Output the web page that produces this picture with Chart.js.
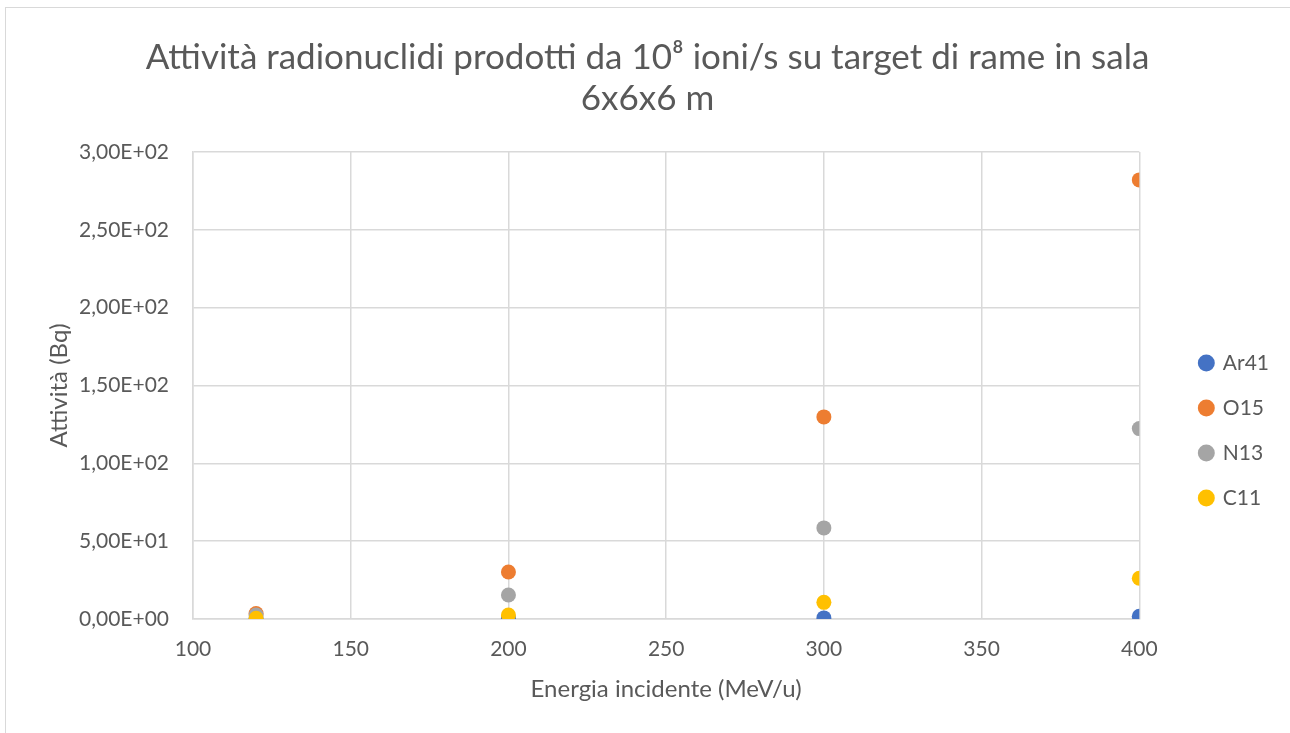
<!DOCTYPE html>
<html>
<head>
<meta charset="utf-8">
<script src="https://cdn.jsdelivr.net/npm/chart.js@4"></script>
<style>
  html, body { margin: 0; padding: 0; background: #fff; }
  #wrap { position: relative; width: 1290px; height: 733px; overflow: hidden; }
  #frame { position: absolute; left: 5px; top: 7px; width: 1300px; height: 740px; border: 1.5px solid #d9d9d9; box-sizing: border-box; }
  #c { position: absolute; left: 0; top: 0; }
</style>
</head>
<body>
<div id="wrap">
  <div id="frame"></div>
  <canvas id="c" width="1290" height="733"></canvas>
</div>
<script>
// energie (MeV/u)
const energies = [120, 200, 300, 400];

// attività (Bq) per radionuclide
const ar41 = [0.1, 0.3, 0.7, 1.8];
const o15 = [3.5, 30.2, 129.8, 282];
const n13 = [2.5, 15.4, 58.5, 122.3];
const c11 = [0.5, 2.6, 10.7, 26.2];

const seriesNames = ['Ar41', 'O15', 'N13', 'C11'];
const seriesColors = ['#4472C4', '#ED7D31', '#A5A5A5', '#FFC000'];

const yTickLabels = ['0,00E+00', '5,00E+01', '1,00E+02', '1,50E+02', '2,00E+02', '2,50E+02', '3,00E+02'];
const xTickLabels = ['100', '150', '200', '250', '300', '350', '400'];

const titleLines = ['Attività radionuclidi prodotti da 10⁸ ioni/s su target di rame in sala', '6x6x6 m'];

const FONT = 'Lato';
const TXT = '#595959';
const GRID = '#d9d9d9';

function toPoints(ys) {
    return energies.map((x, i) => ({ x: x, y: ys[i] }));
}

const allSeries = [ar41, o15, n13, c11];

const datasets = allSeries.map((ys, i) => ({
    label: seriesNames[i],
    data: toPoints(ys),
    backgroundColor: seriesColors[i],
    borderColor: seriesColors[i],
    pointRadius: 7.5,
    pointHoverRadius: 7.5,
    borderWidth: 0,
    order: allSeries.length - i
}));

new Chart(document.getElementById('c'), {
    type: 'scatter',
    data: { datasets: datasets },
    options: {
        responsive: false,
        animation: false,
        layout: { padding: { left: 16, right: 11, top: 0, bottom: 14 } },
        scales: {
            x: {
                type: 'linear',
                min: 100,
                max: 400,
                afterFit: function(s) { s.height = 100; },
                ticks: {
                    stepSize: 50,
                    color: TXT,
                    padding: 18,
                    font: { family: FONT, size: 21 },
                    callback: function(v, i) { return xTickLabels[i]; }
                },
                grid: { color: GRID, lineWidth: 1.5, drawTicks: false },
                border: { color: GRID, width: 1.5 },
                title: {
                    display: true,
                    text: 'Energia incidente (MeV/u)',
                    color: TXT,
                    font: { family: FONT, size: 24 },
                    padding: { top: 15, bottom: 15 }
                }
            },
            y: {
                min: 0,
                max: 300,
                afterFit: function(s) { s.width = 177; },
                ticks: {
                    stepSize: 50,
                    color: TXT,
                    padding: 24,
                    font: { family: FONT, size: 21 },
                    callback: function(v, i) { return yTickLabels[i]; }
                },
                grid: { color: GRID, lineWidth: 1.5, drawTicks: false },
                border: { color: GRID, width: 1.5 },
                title: {
                    display: true,
                    text: 'Attività (Bq)',
                    color: TXT,
                    font: { family: FONT, size: 24 },
                    padding: { top: 29, bottom: 0 }
                }
            },
            // spazio vuoto tra area del grafico e legenda
            gap: {
                type: 'linear',
                position: 'right',
                display: true,
                afterFit: function(s) { s.width = 37; },
                ticks: { display: false },
                grid: { display: false, drawOnChartArea: false },
                border: { display: false }
            }
        },
        plugins: {
            tooltip: { enabled: false },
            title: {
                display: true,
                text: titleLines,
                color: TXT,
                font: { family: FONT, size: 35, weight: 'normal', lineHeight: 1.17 },
                padding: { top: 37, bottom: 33 }
            },
            legend: {
                position: 'right',
                title: { display: true, text: '', font: { size: 10, lineHeight: 1 }, padding: { top: 132, bottom: 0 } },
                labels: {
                    usePointStyle: true,
                    pointStyle: 'circle',
                    boxWidth: 12,
                    boxHeight: 12,
                    padding: 24,
                    color: TXT,
                    font: { family: FONT, size: 21 },
                    sort: function(a, b) { return a.datasetIndex - b.datasetIndex; }
                }
            }
        }
    }
});
</script>
</body>
</html>
